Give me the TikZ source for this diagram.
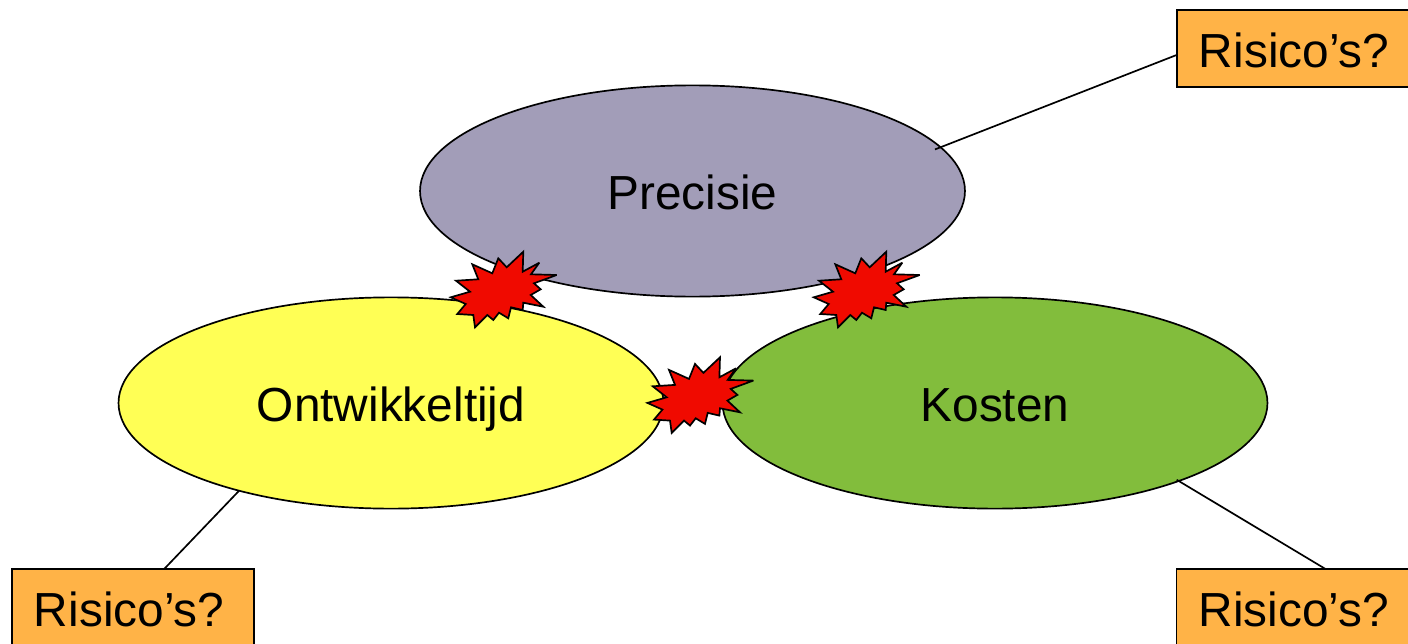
\documentclass[tikz,border=0pt]{standalone}
\usepackage{fontspec}
\setmainfont{Liberation Sans}
\usetikzlibrary{shapes.geometric}

\definecolor{precisiecol}{HTML}{A29DB8}
\definecolor{tijdcol}{HTML}{FFFF55}
\definecolor{kostencol}{HTML}{82BD3C}
\definecolor{risicocol}{HTML}{FFB347}
\definecolor{burstcol}{HTML}{F00A00}

\tikzset{
    goal/.style={draw, ellipse, line width=1.2pt, inner sep=0pt, outer sep=0pt, minimum width=13.62cm, minimum height=5.28cm, text height=26pt, text depth=0pt},
    risico/.style={draw, fill=risicocol, line width=1.2pt, inner sep=0pt, outer sep=0pt, minimum width=6.05cm, minimum height=1.925cm, text width=4.95cm, align=left, text height=27.5pt, text depth=0pt},
    burst/.style={draw, fill=burstcol, line width=1.2pt, line join=miter, miter limit=4},
    link/.style={draw, line width=1.2pt}
}

\begin{document}
\begin{tikzpicture}[x=0.025cm, y=-0.025cm, font=\fontsize{34}{40}\selectfont]
    \useasboundingbox (0, 0) rectangle (1408, 644);
    \clip (0, 0) rectangle (1408, 644);

    \node[goal, fill=precisiecol] (precisie) at (692.5, 191) {Precisie};
    \node[goal, fill=tijdcol] (tijd) at (391, 403) {Ontwikkeltijd};
    \node[goal, fill=kostencol] (kosten) at (995, 403) {Kosten};

    \node[risico] (risicoPrecisie) at (1298, 48.5) {Risico’s?};
    \node[risico] (risicoTijd) at (133, 607.5) {Risico’s?};
    \node[risico] (risicoKosten) at (1297.5, 607.5) {Risico’s?};

    \draw[link, shorten <=-0.15cm] (precisie.10.9) -- (risicoPrecisie.183.5);
    \draw[link] (tijd.210.9) -- (risicoTijd.51);
    \draw[link, shorten <=-0.06cm] (kosten.-23.1) -- (risicoKosten.54);

    \foreach \dx/\dy in {0/0, 196.7/105.6, 363/0} {
        \draw[burst, shift={(\dx, \dy)}]
            (523.3, 251.7) -- (522.7, 271.7) -- (539.3, 262.7) -- (531, 274.3)
            -- (556.7, 275) -- (534, 283.3) -- (540.7, 289.3) -- (530.7, 295)
            -- (543.3, 306.7) -- (523.3, 302.7) -- (522.7, 310) -- (511, 307.3)
            -- (508.3, 318.3) -- (499, 312.7) -- (493.3, 320) -- (487.3, 315)
            -- (475, 327.3) -- (473.3, 315) -- (457.3, 314) -- (465.7, 304)
            -- (450.7, 297.3) -- (470, 291.7) -- (456, 280.7) -- (478.3, 279.3)
            -- (472.3, 264.3) -- (492.3, 273.3) -- (498.3, 258.3) -- (506.7, 267.3)
            -- cycle;
    }
\end{tikzpicture}
\end{document}
